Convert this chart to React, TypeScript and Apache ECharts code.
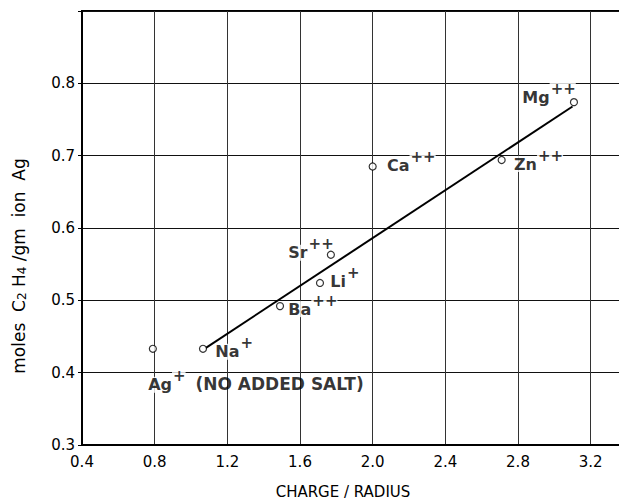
import React, { useEffect, useRef } from "react";
import * as echarts from "echarts";

// ---- data ----
const ions = ["Ag", "Na", "Ba", "Li", "Sr", "Ca", "Zn", "Mg"];
const charges = ["+", "+", "++", "+", "++", "++", "++", "++"];
const chargeRadius = [0.79, 1.066, 1.49, 1.71, 1.77, 2.0, 2.71, 3.108];
const molesC2H4 = [0.433, 0.433, 0.492, 0.524, 0.563, 0.685, 0.694, 0.774];
const notes = [" (NO ADDED SALT)", "", "", "", "", "", "", ""];
const fitLineX = [1.08, 3.1];
const fitLineY = [0.434, 0.768];
const xTickLabels = ["0.4", "0.8", "1.2", "1.6", "2.0", "2.4", "2.8", "3.2"];
const yTickLabels = ["0.3", "0.4", "0.5", "0.6", "0.7", "0.8"];

// label placement (pixel offsets from each point), kept apart from data
const labelOffsets: Record<string, [number, number]> = {
  Ag: [-5, 32],
  Na: [12, -1],
  Ba: [8, -1],
  Li: [10, -5],
  Sr: [-43, -6],
  Ca: [14, -5],
  Zn: [12, 0],
  Mg: [-52, -9],
};

const FONT = "DejaVu Sans, Liberation Sans, Arial, sans-serif";
const noBorder = { textBorderWidth: 0, textBorderColor: "transparent", textShadowBlur: 0 };

export default function App() {
  const ref = useRef<HTMLDivElement>(null);
  useEffect(() => {
    if (!ref.current) return;
    const chart = echarts.init(ref.current, null, { renderer: "svg" });

    const points = chargeRadius.map((x, i) => [x, molesC2H4[i]]);
    const labelData = chargeRadius.map((x, i) => ({
      value: [x, molesC2H4[i]],
      label: {
        offset: labelOffsets[ions[i]],
        formatter:
          "{s| }{b|" + ions[i] + "}{p|" + charges[i] + "}" + (notes[i] ? "{r|" + notes[i] + "}" : ""),
      },
    }));

    const option: any = {
      animation: false,
      backgroundColor: "#fff",
      grid: {
        left: 82,
        top: 11,
        right: 13,
        bottom: 55,
        show: true,
        borderColor: "#000",
        borderWidth: 2,
        backgroundColor: "transparent",
      },
      xAxis: {
        type: "value",
        min: 0.4,
        max: 3.4,
        interval: 0.4,
        axisLine: { show: true, lineStyle: { color: "#000", width: 2 } },
        axisTick: { show: false },
        splitLine: { show: true, lineStyle: { color: "#333", width: 1 } },
        axisLabel: {
          margin: 9,
          color: "#000",
          fontFamily: FONT,
          fontSize: 15,
          formatter: (_v: number, i: number) => xTickLabels[i] ?? "",
        },
      },
      yAxis: {
        type: "value",
        min: 0.3,
        max: 0.9,
        interval: 0.1,
        axisLine: { show: true, lineStyle: { color: "#000", width: 2 } },
        axisTick: { show: true, length: 4, lineStyle: { color: "#000" } },
        splitLine: { show: true, lineStyle: { color: "#111", width: 1 } },
        axisLabel: {
          margin: 7,
          color: "#000",
          fontFamily: FONT,
          fontSize: 15,
          formatter: (_v: number, i: number) => yTickLabels[i] ?? "",
        },
      },
      series: [
        {
          type: "scatter",
          z: 2,
          symbolSize: 1,
          itemStyle: { color: "rgba(0,0,0,0)" },
          data: labelData,
          label: {
            show: true,
            position: "inside",
            align: "left",
            verticalAlign: "middle",
            color: "#000",
            ...noBorder,
            rich: {
              s: { fontSize: 1, lineHeight: 24, fontFamily: FONT, color: "#000", ...noBorder },
              b: {
                fontFamily: FONT,
                fontSize: 16,
                fontWeight: "bold",
                lineHeight: 16,
                verticalAlign: "bottom",
                color: "#000",
                backgroundColor: "#fff",
                ...noBorder,
              },
              p: {
                fontFamily: FONT,
                fontSize: 15,
                fontWeight: "bold",
                lineHeight: 13,
                verticalAlign: "top",
                color: "#000",
                backgroundColor: "#fff",
                padding: [0, 0, 0, 1],
                ...noBorder,
              },
              r: {
                fontFamily: FONT,
                fontSize: 17,
                fontWeight: "bold",
                lineHeight: 16,
                verticalAlign: "bottom",
                color: "#000",
                padding: [0, 0, 0, 4],
                ...noBorder,
              },
            },
          },
          silent: true,
        },
        {
          type: "line",
          z: 3,
          data: fitLineX.map((x, i) => [x, fitLineY[i]]),
          showSymbol: false,
          symbol: "none",
          lineStyle: { color: "#000", width: 2 },
        },
        {
          type: "scatter",
          z: 4,
          data: points,
          symbol: "circle",
          symbolSize: 7,
          itemStyle: { color: "#fff", borderColor: "#000", borderWidth: 1.2 },
        },
      ],
      graphic: [
        {
          type: "text",
          x: 343,
          y: 492,
          style: {
            text: "CHARGE / RADIUS",
            fontFamily: FONT,
            fontSize: 15,
            fill: "#000",
            align: "center",
            verticalAlign: "middle",
          },
        },
        {
          type: "text",
          x: 19,
          y: 266,
          rotation: Math.PI / 2,
          style: {
            text: "moles  C{sub|2} H{sub|4} /gm  ion  Ag",
            fontFamily: FONT,
            fontSize: 17,
            fill: "#000",
            align: "center",
            verticalAlign: "middle",
            rich: {
              sub: { fontFamily: FONT, fontSize: 12, verticalAlign: "bottom", fill: "#000" },
            },
          },
        },
      ],
    };
    chart.setOption(option);
    return () => chart.dispose();
  }, []);
  return (
    <div
      style={{ position: "absolute", left: 0, top: 0, width: 619, height: 500, overflow: "hidden", background: "#fff" }}
    >
      <div ref={ref} style={{ width: 640, height: 500 }} />
    </div>
  );
}
